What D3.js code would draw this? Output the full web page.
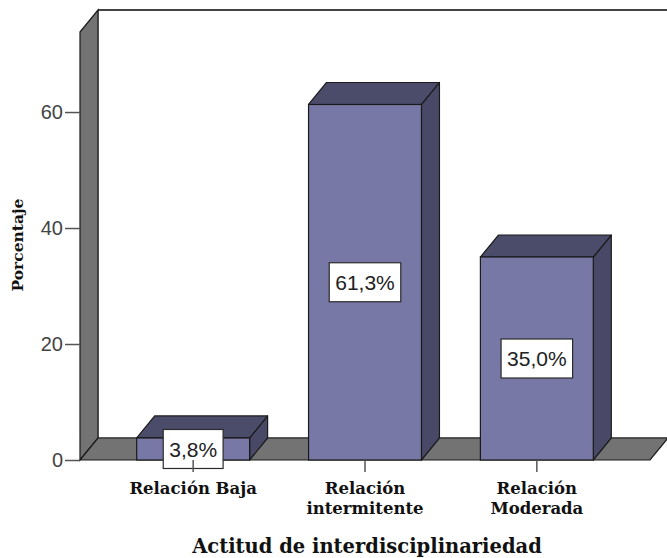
<!DOCTYPE html>
<html>
<head>
<meta charset="utf-8">
<script src="https://cdn.jsdelivr.net/npm/d3@7"></script>
<style>
  html, body { margin: 0; padding: 0; background: #fff; }
  svg { display: block; }
</style>
</head>
<body>
<svg id="chart" width="667" height="558"></svg>
<script>
// Category labels (each entry is a list of lines), values in percent, y ticks
const categories = ["Relación Baja", "Relación intermitente", "Relación Moderada"];
const categoryLines = [["Relación Baja"], ["Relación", "intermitente"], ["Relación", "Moderada"]];
const percentages = [3.8, 61.3, 35.0];
const valueLabels = ["3,8%", "61,3%", "35,0%"];
const yTicks = [0, 20, 40, 60];

const svg = d3.select("#chart");

// plot frame (front plane) and 3D depth offset
const plotLeft = 80, plotRight = 650, plotBottom = 460, plotTop = 32;
const dx = 18, dy = 22;

const x = d3.scaleBand()
  .domain(categories)
  .range([plotLeft, plotRight])
  .paddingInner(0.343)
  .paddingOuter(0.33);

const y = d3.scaleLinear()
  .domain([0, 73.8])
  .range([plotBottom, plotTop]);

const colors = {
  wall: "#737373",
  front: "#7878a7",
  topFace: "#4b4b6a",
  side: "#494967",
  edge: "#1a1a1a"
};

const poly = pts => "M" + pts.map(p => p.join(",")).join("L") + "Z";

// back wall
svg.append("path")
  .attr("d", poly([[plotLeft + dx, plotTop - dy], [plotRight + dx, plotTop - dy], [plotRight + dx, plotBottom - dy], [plotLeft + dx, plotBottom - dy]]))
  .attr("fill", "#fff")
  .attr("stroke", "#3a3a3a")
  .attr("stroke-width", 1);
svg.append("line")
  .attr("x1", plotLeft + dx).attr("x2", plotRight + dx + 5)
  .attr("y1", plotTop - dy).attr("y2", plotTop - dy)
  .attr("stroke", "#444").attr("stroke-width", 2);

// left side wall
svg.append("path")
  .attr("d", poly([[plotLeft, plotTop], [plotLeft + dx, plotTop - dy], [plotLeft + dx, plotBottom - dy], [plotLeft, plotBottom]]))
  .attr("fill", colors.wall)
  .attr("stroke", colors.edge)
  .attr("stroke-width", 1.2);

// floor
svg.append("path")
  .attr("d", poly([[plotLeft, plotBottom], [plotLeft + dx, plotBottom - dy], [plotRight + dx, plotBottom - dy], [plotRight, plotBottom]]))
  .attr("fill", colors.wall)
  .attr("stroke", colors.edge)
  .attr("stroke-width", 1.2);

// bars
const bw = x.bandwidth();
const bars = svg.append("g").selectAll("g")
  .data(categories.map((c, i) => ({ c, v: percentages[i], label: valueLabels[i] })))
  .join("g");

bars.append("path") // side face
  .attr("d", d => {
    const x0 = x(d.c), yv = y(d.v), y0 = y(0);
    return poly([[x0 + bw, yv], [x0 + bw + dx, yv - dy], [x0 + bw + dx, y0 - dy], [x0 + bw, y0]]);
  })
  .attr("fill", colors.side)
  .attr("stroke", colors.edge)
  .attr("stroke-width", 1.2)
  .attr("stroke-linejoin", "round");

bars.append("path") // top face
  .attr("d", d => {
    const x0 = x(d.c), yv = y(d.v);
    return poly([[x0, yv], [x0 + dx, yv - dy], [x0 + bw + dx, yv - dy], [x0 + bw, yv]]);
  })
  .attr("fill", colors.topFace)
  .attr("stroke", colors.edge)
  .attr("stroke-width", 1.2)
  .attr("stroke-linejoin", "round");

bars.append("rect") // front face
  .attr("x", d => x(d.c))
  .attr("y", d => y(d.v))
  .attr("width", bw)
  .attr("height", d => y(0) - y(d.v))
  .attr("fill", colors.front)
  .attr("stroke", colors.edge)
  .attr("stroke-width", 1.2);

// category tick marks
svg.append("g").selectAll("line")
  .data(categories)
  .join("line")
  .attr("x1", d => x(d) + bw / 2).attr("x2", d => x(d) + bw / 2)
  .attr("y1", plotBottom).attr("y2", plotBottom + 12)
  .attr("stroke", "#555").attr("stroke-width", 1.5);

// value labels in white boxes at the middle of each front face
const labels = bars.append("g")
  .attr("transform", d => `translate(${x(d.c) + bw / 2},${(y(d.v) + y(0)) / 2})`);
labels.append("text")
  .attr("text-anchor", "middle")
  .attr("dy", "0.36em")
  .attr("font-family", "'Liberation Sans', Arial, sans-serif")
  .attr("font-size", 21)
  .attr("fill", "#222")
  .text(d => d.label);
labels.each(function () {
  const g = d3.select(this);
  const bb = g.select("text").node().getBBox();
  const w = bb.width + 12, h = 39;
  g.insert("rect", "text")
    .attr("x", -w / 2).attr("y", -h / 2)
    .attr("width", w).attr("height", h)
    .attr("fill", "#fff")
    .attr("stroke", "#2a2a2a")
    .attr("stroke-width", 1.2);
});

// y axis
const yAxis = svg.append("g")
  .attr("transform", `translate(${plotLeft},0)`)
  .call(d3.axisLeft(y).tickValues(yTicks).tickSize(15).tickPadding(2).tickFormat(d3.format("d")));
yAxis.select(".domain").remove();
yAxis.selectAll(".tick line").attr("stroke", "#555").attr("stroke-width", 1.5);
yAxis.selectAll(".tick text")
  .attr("font-family", "'Liberation Sans', Arial, sans-serif")
  .attr("font-size", 20)
  .attr("fill", "#444");

// category labels
const catLabels = svg.append("g").selectAll("text")
  .data(categories.map((c, i) => ({ c, lines: categoryLines[i] })))
  .join("text")
  .attr("text-anchor", "middle")
  .attr("font-family", "'DejaVu Serif', serif")
  .attr("font-weight", "bold")
  .attr("font-size", 16.5)
  .attr("fill", "#111")
  .attr("transform", d => `translate(${x(d.c) + bw / 2},494)`);
catLabels.selectAll("tspan")
  .data(d => d.lines)
  .join("tspan")
  .attr("x", 0)
  .attr("y", (d, i) => i * 20)
  .text(d => d);

// axis titles
svg.append("text")
  .attr("x", (plotLeft + plotRight) / 2 + 2)
  .attr("y", 553)
  .attr("text-anchor", "middle")
  .attr("font-family", "'DejaVu Serif', serif")
  .attr("font-weight", "bold")
  .attr("font-size", 19.5)
  .attr("fill", "#111")
  .text("Actitud de interdisciplinariedad");

svg.append("text")
  .attr("transform", "translate(23,245) rotate(-90)")
  .attr("text-anchor", "middle")
  .attr("font-family", "'DejaVu Serif', serif")
  .attr("font-weight", "bold")
  .attr("font-size", 15.5)
  .attr("fill", "#111")
  .text("Porcentaje");
</script>
</body>
</html>
